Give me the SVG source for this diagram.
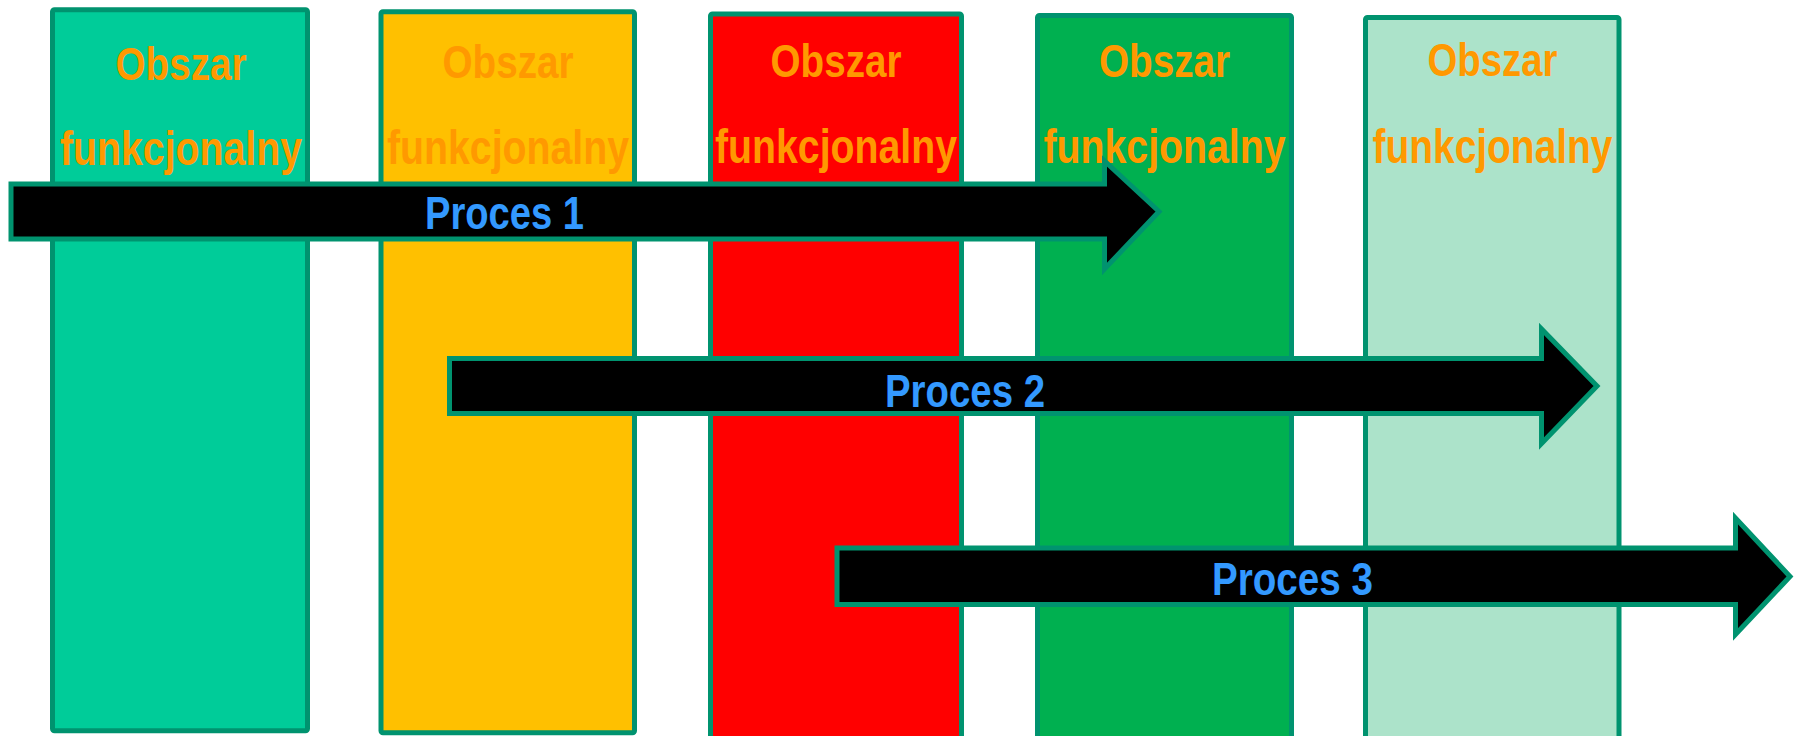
<svg xmlns="http://www.w3.org/2000/svg" width="1796" height="736" viewBox="0 0 1796 736">
  <style>
    .area { stroke: #00936F; stroke-width: 5; }
    .area-label { font-family: "Liberation Sans", Arial, sans-serif; font-weight: bold; font-size: 48px; fill: #FF9900; text-anchor: middle; }
    .area-label.top { font-size: 46px; }
    .flow { fill: #000000; stroke: #00936F; stroke-width: 5; stroke-linejoin: miter; }
    .flow-label { font-family: "Liberation Sans", Arial, sans-serif; font-weight: bold; font-size: 47px; fill: #3399FF; text-anchor: middle; }
  </style>
  <rect width="1796" height="736" fill="#FFFFFF"/>

  <!-- functional areas (columns) -->
  <g id="area1">
    <rect class="area" x="52.5" y="9.8" width="255" height="721" rx="2" fill="#00CC99"/>
    <text class="area-label top" x="181" y="80" textLength="131" lengthAdjust="spacingAndGlyphs">Obszar</text>
    <text class="area-label" x="181" y="165" textLength="242" lengthAdjust="spacingAndGlyphs">funkcjonalny</text>
  </g>
  <g id="area2">
    <rect class="area" x="381" y="11.8" width="253.5" height="721" rx="2" fill="#FFC000"/>
    <text class="area-label top" x="508" y="78" textLength="131" lengthAdjust="spacingAndGlyphs">Obszar</text>
    <text class="area-label" x="508" y="164" textLength="242" lengthAdjust="spacingAndGlyphs">funkcjonalny</text>
  </g>
  <g id="area3">
    <rect class="area" x="710.5" y="14" width="251" height="730" rx="2" fill="#FF0000"/>
    <text class="area-label top" x="836" y="77" textLength="131" lengthAdjust="spacingAndGlyphs">Obszar</text>
    <text class="area-label" x="836" y="163" textLength="242" lengthAdjust="spacingAndGlyphs">funkcjonalny</text>
  </g>
  <g id="area4">
    <rect class="area" x="1037.5" y="15.5" width="254" height="730" rx="2" fill="#00B050"/>
    <text class="area-label top" x="1164.5" y="77" textLength="131" lengthAdjust="spacingAndGlyphs">Obszar</text>
    <text class="area-label" x="1164.5" y="163" textLength="242" lengthAdjust="spacingAndGlyphs">funkcjonalny</text>
  </g>
  <g id="area5">
    <rect class="area" x="1365.5" y="17.5" width="253.5" height="730" rx="2" fill="#ACE3CA"/>
    <text class="area-label top" x="1492.5" y="76" textLength="130" lengthAdjust="spacingAndGlyphs">Obszar</text>
    <text class="area-label" x="1492.5" y="163" textLength="240" lengthAdjust="spacingAndGlyphs">funkcjonalny</text>
  </g>

  <!-- process block arrows -->
  <g id="connectors">
    <g id="process1">
      <polygon class="flow" points="11,184 1104.5,184 1104.5,161 1159,211.5 1104.5,269 1104.5,239 11,239"/>
      <text class="flow-label" x="504.5" y="229" textLength="159" lengthAdjust="spacingAndGlyphs">Proces 1</text>
    </g>
    <g id="process2">
      <polygon class="flow" points="449.5,358.5 1541.5,358.5 1541.5,329 1597,386 1541.5,443.5 1541.5,413.5 449.5,413.5"/>
      <text class="flow-label" x="965" y="407" textLength="160" lengthAdjust="spacingAndGlyphs">Proces 2</text>
    </g>
    <g id="process3">
      <polygon class="flow" points="837,548 1735.5,548 1735.5,518 1790,576.5 1735.5,634.5 1735.5,604.5 837,604.5"/>
      <text class="flow-label" x="1292.5" y="595" textLength="161" lengthAdjust="spacingAndGlyphs">Proces 3</text>
    </g>
  </g>
</svg>
